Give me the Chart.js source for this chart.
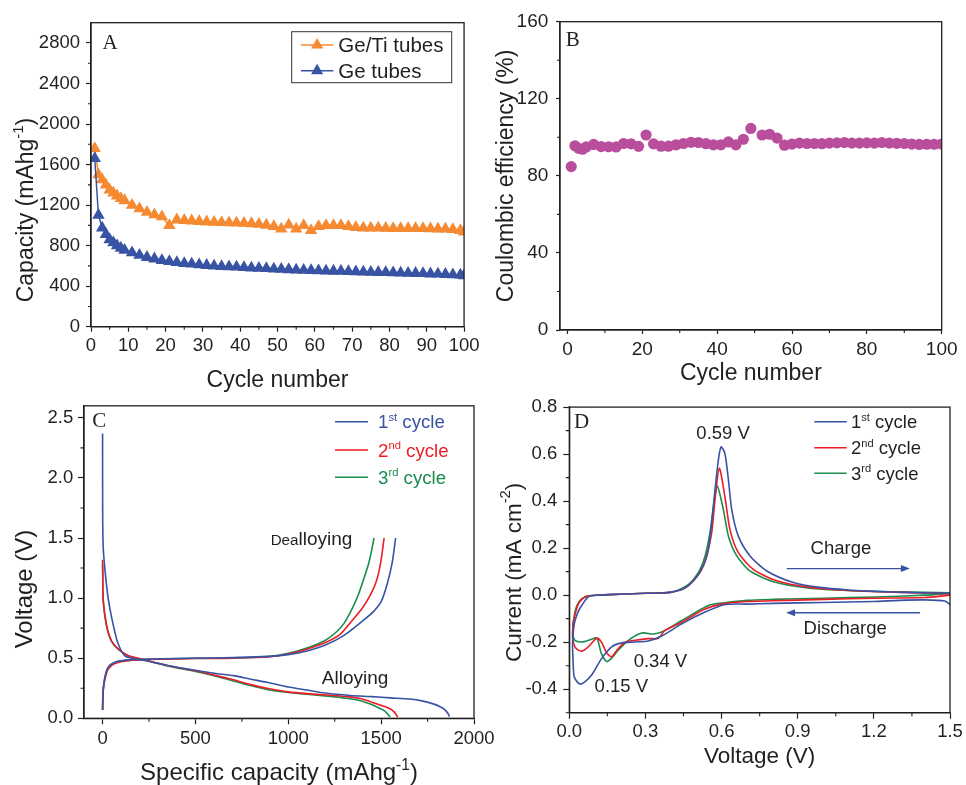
<!DOCTYPE html>
<html>
<head>
<meta charset="utf-8">
<script src="https://cdn.jsdelivr.net/npm/chart.js@4.4.1/dist/chart.umd.min.js"></script>
<style>
html, body { margin: 0; padding: 0; background: #fff; }
#fig { position: relative; width: 966px; height: 785px; overflow: hidden; background: #fff; }
canvas { position: absolute; }
</style>
</head>
<body>
<div id="fig">
  <canvas id="cA" width="483" height="394" style="left:0;top:0"></canvas>
  <canvas id="cB" width="486" height="393" style="left:480px;top:0"></canvas>
  <canvas id="cC" width="500" height="395" style="left:0;top:390px"></canvas>
  <canvas id="cD" width="486" height="395" style="left:480px;top:390px"></canvas>
</div>
<script>
// ---- data ----

// A: capacity vs cycle
const cycA = [1,2,3,4,5,6,7,8,9,11,13,15,17,19,21,23,25,27,29,31,33,35,37,39,41,43,45,47,49,
  51,53,55,57,59,61,63,65,67,69,71,73,75,77,79,81,83,85,87,89,91,93,95,97,99,100];
const capGeTi = [1760,1500,1450,1400,1350,1320,1290,1265,1245,
  1200,1165,1130,1105,1085,
  1000,1055,1050,1045,1040,
  1035,1032,1030,1027,1025,
  1022,1018,1012,1003,990,
  965,1005,965,1000,950,
  990,1000,1000,1000,990,
  980,975,975,975,972,
  970,970,970,970,970,
  968,965,965,960,950,
  935];
const capGe = [1660,1100,975,910,860,830,800,775,755,
  730,705,685,670,655,
  645,635,625,620,612,
  606,600,595,592,589,
  585,581,578,575,571,
  567,564,561,558,556,
  553,551,549,547,545,
  543,541,539,537,535,
  533,531,529,527,525,
  522,520,517,514,511,
  505];
const aXTicks = [0,10,20,30,40,50,60,70,80,90,100];
const aYTicks = [0,400,800,1200,1600,2000,2400,2800];

// B: coulombic efficiency
const cycB = [1,2,3,4,5,7,9,11,13,15,17,19,21,23,25,27,29,31,33,35,37,39,41,43,45,47,49,
  52,54,56,58,60,62,64,66,68,70,72,74,76,78,80,82,84,86,88,90,92,94,96,98,100];
const ceB = [84.8,95.6,94.3,93.8,95,96.3,95.2,95.1,95,96.8,96.6,95.3,101.2,96.6,95.4,95.4,96.1,96.8,97.4,97.3,96.7,96.1,96.1,97.6,96.1,99,104.6,
  101.2,101.6,99.6,95.9,96.5,97,96.8,96.8,96.7,97,97.1,97.3,97,97,97.1,97,97.3,97,96.9,96.8,96.5,96.3,96.4,96.4,96.5];
const bXTicks = [0,20,40,60,80,100];
const bYTicks = [0,40,80,120,160];

// C: voltage profiles [capacity, voltage]
const c1Dis = [[0,2.37],[0.5,1.72],[3,1.44],[12,1.25],[30,1.0],[57,0.78],[84,0.62],[120,0.52],[173,0.495],[245,0.475],
  [350,0.44],[500,0.40],[603,0.375],[704,0.355],[800,0.325],[884,0.30],[1000,0.26],[1100,0.235],[1200,0.21],[1333,0.19],
  [1450,0.18],[1550,0.17],[1656,0.16],[1720,0.145],[1780,0.12],[1818,0.096],[1844,0.07],[1860,0.04],[1868,0.014]];
const c1Chg = [[0,0.068],[3,0.23],[12,0.34],[30,0.425],[66,0.466],[138,0.486],[317,0.495],[500,0.5],[704,0.505],[900,0.515],
  [1000,0.53],[1100,0.56],[1200,0.61],[1300,0.69],[1400,0.81],[1460,0.89],[1500,0.97],[1533,1.12],[1560,1.3],[1578,1.5]];
const c2Dis = [[0,1.32],[1,1.2],[3,1.0],[21,0.78],[48,0.645],[84,0.577],[138,0.52],[227,0.486],[350,0.44],[500,0.395],
  [600,0.36],[704,0.32],[800,0.28],[884,0.25],[1000,0.22],[1100,0.205],[1243,0.19],[1320,0.18],[1387,0.165],[1440,0.14],
  [1494,0.11],[1548,0.08],[1575,0.045],[1589,0.01]];
const c2Chg = [[0,0.07],[3,0.22],[12,0.32],[30,0.41],[66,0.455],[138,0.48],[317,0.492],[500,0.497],[704,0.5],[900,0.512],
  [1000,0.535],[1100,0.575],[1200,0.63],[1280,0.70],[1342,0.81],[1400,0.92],[1440,1.02],[1474,1.14],[1498,1.3],[1516,1.5]];
const c3Dis = [[0,1.28],[1,1.18],[3,0.98],[21,0.77],[48,0.64],[84,0.575],[138,0.52],[227,0.485],[350,0.435],[500,0.39],
  [600,0.355],[704,0.31],[800,0.27],[884,0.24],[1000,0.215],[1100,0.2],[1240,0.18],[1320,0.165],[1380,0.15],[1430,0.125],
  [1470,0.10],[1520,0.06],[1548,0.01]];
const c3Chg = [[0,0.07],[3,0.23],[12,0.33],[30,0.42],[66,0.462],[138,0.484],[317,0.494],[500,0.499],[704,0.503],[900,0.515],
  [1000,0.54],[1100,0.585],[1200,0.65],[1260,0.72],[1300,0.79],[1340,0.90],[1375,1.02],[1400,1.13],[1435,1.3],[1462,1.5]];
const cXTicks = [0,500,1000,1500,2000];
const cYTicks = [0,0.5,1.0,1.5,2.0,2.5];

// D: cyclic voltammetry [voltage, current]
const d1 = [[1.5,-0.04],[1.48,-0.025],[1.4,-0.02],[1.3,-0.022],[1.2,-0.027],[1.0,-0.031],[0.8,-0.035],[0.7,-0.038],[0.614,-0.04],
  [0.535,-0.072],[0.443,-0.122],[0.364,-0.174],[0.311,-0.195],[0.259,-0.199],[0.206,-0.203],[0.167,-0.22],[0.127,-0.27],
  [0.088,-0.34],[0.06,-0.37],[0.042,-0.378],[0.025,-0.36],[0.018,-0.34],[0.014,-0.26],[0.013,-0.2],
  [0.02,-0.12],[0.035,-0.07],[0.049,-0.044],[0.075,-0.007],[0.114,0.0],[0.2,0.004],[0.3,0.008],[0.357,0.009],[0.4,0.013],
  [0.449,0.026],[0.489,0.061],[0.528,0.125],[0.548,0.195],[0.561,0.307],[0.574,0.448],[0.588,0.58],[0.598,0.631],
  [0.613,0.603],[0.627,0.49],[0.64,0.364],[0.666,0.251],[0.712,0.167],[0.778,0.103],[0.883,0.054],[0.988,0.033],
  [1.1,0.022],[1.2,0.016],[1.35,0.011],[1.5,0.008]];
const d2 = [[1.5,0.0],[1.4,-0.01],[1.2,-0.013],[1.0,-0.018],[0.8,-0.024],[0.7,-0.027],[0.614,-0.035],[0.535,-0.059],
  [0.443,-0.115],[0.377,-0.15],[0.351,-0.183],[0.311,-0.185],[0.259,-0.192],[0.22,-0.2],[0.19,-0.23],[0.167,-0.262],
  [0.147,-0.245],[0.127,-0.2],[0.108,-0.183],[0.075,-0.22],[0.049,-0.238],[0.025,-0.225],[0.014,-0.19],[0.013,-0.165],
  [0.016,-0.115],[0.036,-0.037],[0.062,-0.007],[0.114,0.0],[0.2,0.004],[0.3,0.008],[0.4,0.012],[0.463,0.035],[0.515,0.096],
  [0.541,0.167],[0.561,0.265],[0.574,0.406],[0.591,0.54],[0.613,0.42],[0.633,0.279],[0.666,0.181],[0.725,0.11],
  [0.817,0.061],[0.948,0.033],[1.1,0.02],[1.3,0.012],[1.5,0.006]];
const d3 = [[1.5,0.008],[1.4,0.0],[1.2,-0.008],[1.0,-0.013],[0.8,-0.018],[0.7,-0.022],[0.614,-0.032],[0.548,-0.044],
  [0.443,-0.108],[0.364,-0.157],[0.33,-0.165],[0.285,-0.161],[0.233,-0.192],[0.193,-0.234],[0.165,-0.27],[0.147,-0.282],
  [0.127,-0.25],[0.108,-0.182],[0.082,-0.19],[0.049,-0.199],[0.022,-0.192],[0.013,-0.16],
  [0.022,-0.072],[0.042,-0.023],[0.075,-0.003],[0.114,0.0],[0.2,0.004],[0.3,0.008],[0.4,0.012],[0.463,0.04],[0.508,0.096],
  [0.535,0.167],[0.554,0.265],[0.57,0.392],[0.583,0.465],[0.607,0.364],[0.627,0.251],[0.66,0.167],[0.712,0.103],
  [0.804,0.057],[0.948,0.03],[1.1,0.02],[1.3,0.014],[1.5,0.01]];
const dXTicks = [0,0.3,0.6,0.9,1.2,1.5];
const dYTicks = [-0.4,-0.2,0,0.2,0.4,0.6,0.8];

// legend labels: [text, size factor, rise]
const cycleLabels = [
  [['1',1,0],['st',0.6,0.42],[' cycle',1,0]],
  [['2',1,0],['nd',0.6,0.42],[' cycle',1,0]],
  [['3',1,0],['rd',0.6,0.42],[' cycle',1,0]]
];

// ---- styling ----
const INK = '#231f20';
const FONT = '"Liberation Sans", Arial, Helvetica, sans-serif';
const SERIF = '"Liberation Serif", "Times New Roman", serif';
const ORANGE = '#f58a32', BLUE = '#3953a4', RED = '#ee1d25', GREEN = '#1b8b4e', MAGENTA = '#b94e9c';

const xy = arr => arr.map(p => ({x: p[0], y: p[1]}));
const minors = (ticks) => { // midpoints between major ticks
  const out = [];
  for (let i = 0; i < ticks.length - 1; i++) out.push((ticks[i] + ticks[i + 1]) / 2);
  return out;
};

function rich(ctx, parts, x, y, size, color, align, rot, family) {
  ctx.save();
  ctx.translate(x, y);
  if (rot) ctx.rotate(rot);
  ctx.fillStyle = color;
  ctx.textBaseline = 'alphabetic';
  ctx.textAlign = 'left';
  const fam = family || FONT;
  const widths = parts.map(p => { ctx.font = (size * p[1]) + 'px ' + fam; return ctx.measureText(p[0]).width; });
  const total = widths.reduce((a, b) => a + b, 0);
  let cx = align === 'left' ? 0 : (align === 'right' ? -total : -total / 2);
  const base = size * 0.36;
  parts.forEach((p, i) => {
    ctx.font = (size * p[1]) + 'px ' + fam;
    ctx.fillText(p[0], cx, base - p[2] * size);
    cx += widths[i];
  });
  ctx.restore();
}

function axis(o) {
  return {
    type: 'linear',
    min: o.min,
    max: o.max,
    afterBuildTicks: s => { s.ticks = o.ticks.map(v => ({value: v})); },
    afterFit: s => { if (o.w) s.width = o.w; if (o.h) s.height = o.h; },
    grid: {drawOnChartArea: false, drawTicks: true, tickLength: o.tl, tickColor: INK, tickWidth: 1.2},
    border: {display: true, color: INK, width: 1.3},
    ticks: {
      font: {family: FONT, size: o.fs}, color: INK, padding: o.pad,
      autoSkip: false, maxRotation: 0,
      callback: o.fmt || (v => String(v))
    },
    title: o.title ? {
      display: true, text: o.title, color: INK,
      font: {family: FONT, size: o.tfs}, padding: o.tpad
    } : {display: false}
  };
}

function deco(cfg) {
  return {
    id: 'deco',
    afterDraw(chart) {
      const ctx = chart.ctx, a = chart.chartArea;
      const xs = chart.scales.x, ys = chart.scales.y;
      const px = (v) => xs.getPixelForValue(v), py = (v) => ys.getPixelForValue(v);
      ctx.save();
      ctx.strokeStyle = INK;
      ctx.lineWidth = 1.3;
      ctx.strokeRect(a.left, a.top, a.right - a.left, a.bottom - a.top);
      ctx.lineWidth = 1.1;
      ctx.beginPath();
      cfg.minorX.forEach(v => { ctx.moveTo(px(v), a.bottom); ctx.lineTo(px(v), a.bottom + cfg.minorLen); });
      cfg.minorY.forEach(v => { ctx.moveTo(a.left, py(v)); ctx.lineTo(a.left - cfg.minorLen, py(v)); });
      ctx.stroke();

      (cfg.arrows || []).forEach(ar => {
        const x0 = px(ar.from[0]), y0 = py(ar.from[1]), x1 = px(ar.to[0]), y1 = py(ar.to[1]);
        const dir = Math.sign(x1 - x0);
        ctx.strokeStyle = ar.color; ctx.fillStyle = ar.color; ctx.lineWidth = 1.4;
        ctx.beginPath(); ctx.moveTo(x0, y0); ctx.lineTo(x1 - dir * 6, y1); ctx.stroke();
        ctx.beginPath(); ctx.moveTo(x1, y1); ctx.lineTo(x1 - dir * 9, y1 - 3.5); ctx.lineTo(x1 - dir * 9, y1 + 3.5);
        ctx.closePath(); ctx.fill();
      });

      if (cfg.legend) {
        const L = cfg.legend;
        if (L.box) {
          ctx.strokeStyle = '#333'; ctx.lineWidth = 1;
          ctx.strokeRect(L.box[0], L.box[1], L.box[2] - L.box[0], L.box[3] - L.box[1]);
        }
        L.rows.forEach((r, i) => {
          const ds = chart.data.datasets[r.ds];
          const col = ds.borderColor;
          ctx.strokeStyle = col; ctx.lineWidth = 1.6;
          ctx.beginPath(); ctx.moveTo(L.x0, r.y); ctx.lineTo(L.x1, r.y); ctx.stroke();
          if (L.marker) {
            const m = (L.x0 + L.x1) / 2, s = 7;
            ctx.fillStyle = col;
            ctx.beginPath();
            ctx.moveTo(m, r.y - s); ctx.lineTo(m + s * 0.866, r.y + s / 2); ctx.lineTo(m - s * 0.866, r.y + s / 2);
            ctx.closePath(); ctx.fill();
          }
          rich(ctx, r.parts, L.tx, r.y, L.size, L.colored ? col : INK, 'left', 0);
        });
      }

      (cfg.texts || []).forEach(t => {
        const x = t.data ? px(t.x) : t.x, y = t.data ? py(t.y) : t.y;
        rich(ctx, t.parts, x, y, t.size, t.color || INK, t.align || 'center', t.rot || 0, t.family);
      });
      ctx.restore();
    }
  };
}

const base = (pad) => ({
  responsive: false,
  animation: false,
  devicePixelRatio: 1,
  layout: {padding: pad},
  plugins: {legend: {display: false}, tooltip: {enabled: false}},
  events: []
});

// ---- Panel A ----
new Chart(document.getElementById('cA'), {
  type: 'scatter',
  data: {
    datasets: [
      {label: 'Ge tubes', data: cycA.map((c, i) => ({x: c, y: capGe[i]})), borderColor: BLUE, backgroundColor: BLUE,
       showLine: true, borderWidth: 1.5, pointStyle: 'triangle', pointRadius: 7.2, pointBorderWidth: 0},
      {label: 'Ge/Ti tubes', data: cycA.map((c, i) => ({x: c, y: capGeTi[i]})), borderColor: ORANGE, backgroundColor: ORANGE,
       showLine: true, borderWidth: 1.5, pointStyle: 'triangle', pointRadius: 7.2, pointBorderWidth: 0}
    ]
  },
  options: Object.assign(base({left: 0, top: 22.7, right: 17, bottom: 0}), {
    scales: {
      x: axis({min: 0, max: 100, ticks: aXTicks, h: 67.3, tl: 5, fs: 18.5, pad: 3.5,
               title: 'Cycle number', tfs: 23, tpad: {top: 0, bottom: 0}}),
      y: axis({min: 0, max: 3000, ticks: aYTicks, w: 91, tl: 5, fs: 18.5, pad: 6})
    }
  }),
  plugins: [deco({
    minorX: minors(aXTicks), minorY: minors(aYTicks), minorLen: 3,
    legend: {box: [291.7, 31.7, 451.7, 82.7], x0: 301, x1: 333.3, tx: 338.3, size: 20.5, marker: true, colored: false,
             rows: [{ds: 1, y: 45, parts: [['Ge/Ti tubes', 1, 0]]}, {ds: 0, y: 70.7, parts: [['Ge tubes', 1, 0]]}]},
    texts: [
      {parts: [['A', 1, 0]], x: 110, y: 41.7, size: 21, family: SERIF},
      {parts: [['Capacity (mAhg', 1, 0], ['-1', 0.65, 0.45], [')', 1, 0]], x: 25, y: 210, size: 23, rot: -Math.PI / 2}
    ]
  })]
});

// ---- Panel B ----
new Chart(document.getElementById('cB'), {
  type: 'scatter',
  data: {
    datasets: [
      {label: 'Coulombic efficiency', data: cycB.map((c, i) => ({x: c, y: ceB[i]})), backgroundColor: MAGENTA,
       borderColor: MAGENTA, pointRadius: 5.6, pointBorderWidth: 0}
    ]
  },
  options: Object.assign(base({left: 0, top: 21.7, right: 24.3, bottom: 0}), {
    scales: {
      x: axis({min: -2, max: 100, ticks: bXTicks, h: 63, tl: 4, fs: 19, pad: 4.6,
               title: 'Cycle number', tfs: 23, tpad: {top: 0, bottom: 5.2}}),
      y: axis({min: 0, max: 160, ticks: bYTicks, w: 80, tl: 4, fs: 19, pad: 7.7,
               title: 'Coulombic efficiency (%)', tfs: 23, tpad: {top: 12.9, bottom: 0}})
    }
  }),
  plugins: [deco({
    minorX: minors(bXTicks), minorY: minors(bYTicks), minorLen: 3,
    texts: [{parts: [['B', 1, 0]], x: 92.7, y: 38, size: 21, family: SERIF}]
  })]
});

// ---- Panel C ----
const lineDs = (label, arr, col) => ({label: label, data: xy(arr), borderColor: col, backgroundColor: col,
  showLine: true, borderWidth: 1.6, pointRadius: 0, tension: 0.25});
new Chart(document.getElementById('cC'), {
  type: 'scatter',
  data: {
    datasets: [
      lineDs('1st cycle', c1Dis, BLUE), lineDs('1st cycle', c1Chg, BLUE),
      lineDs('2nd cycle', c2Dis, RED), lineDs('2nd cycle', c2Chg, RED),
      lineDs('3rd cycle', c3Dis, GREEN), lineDs('3rd cycle', c3Chg, GREEN)
    ]
  },
  options: Object.assign(base({left: 0, top: 13.3, right: 26, bottom: 0}), {
    scales: {
      x: axis({min: -100, max: 2000, ticks: cXTicks, h: 66.7, tl: 6, fs: 18.5, pad: 3.6}),
      y: axis({min: 0, max: 2.6, ticks: cYTicks, w: 84, tl: 6, fs: 18.5, pad: 4.7, fmt: v => v.toFixed(1)})
    }
  }),
  plugins: [deco({
    minorX: minors(cXTicks), minorY: minors(cYTicks), minorLen: 3.5,
    legend: {x0: 335, x1: 368, tx: 378, size: 18.7, colored: true,
             rows: [{ds: 0, y: 31.7, parts: cycleLabels[0]}, {ds: 2, y: 60, parts: cycleLabels[1]}, {ds: 4, y: 87.3, parts: cycleLabels[2]}]},
    texts: [
      {parts: [['C', 1, 0]], x: 99.3, y: 29.3, size: 21, family: SERIF},
      {parts: [['Dea', 0.8, 0], ['lloying', 1, 0]], x: 1125, y: 1.497, size: 19, data: true},
      {parts: [['Alloying', 1, 0]], x: 1360, y: 0.343, size: 19, data: true},
      {parts: [['Voltage (V)', 1, 0]], x: 23.3, y: 199, size: 24, rot: -Math.PI / 2},
      {parts: [['Specific capacity (mAhg', 1, 0], ['-1', 0.65, 0.45], [')', 1, 0]], x: 279, y: 381.7, size: 24}
    ]
  })]
});

// ---- Panel D ----
new Chart(document.getElementById('cD'), {
  type: 'scatter',
  data: {
    datasets: [
      lineDs('1st cycle', d1, BLUE), lineDs('2nd cycle', d2, RED), lineDs('3rd cycle', d3, GREEN)
    ]
  },
  options: Object.assign(base({left: 0, top: 13.3, right: 16, bottom: 0}), {
    scales: {
      x: axis({min: 0, max: 1.5, ticks: dXTicks, h: 72.3, tl: 6, fs: 18.5, pad: 1.9, fmt: v => v.toFixed(1),
               title: 'Voltage (V)', tfs: 22.5, tpad: {top: 0, bottom: 14.8}}),
      y: axis({min: -0.5, max: 0.8, ticks: dYTicks, w: 89.3, tl: 6, fs: 18.5, pad: 6, fmt: v => v.toFixed(1)})
    }
  }),
  plugins: [deco({
    minorX: minors(dXTicks), minorY: [-0.5].concat(minors(dYTicks)), minorLen: 3.5,
    legend: {x0: 334.3, x1: 366.7, tx: 371, size: 18.5, colored: false,
             rows: [{ds: 0, y: 31.7, parts: cycleLabels[0]}, {ds: 1, y: 57.7, parts: cycleLabels[1]}, {ds: 2, y: 83.3, parts: cycleLabels[2]}]},
    arrows: [
      {from: [0.857, 0.113], to: [1.342, 0.113], color: BLUE},
      {from: [1.382, -0.075], to: [0.854, -0.075], color: BLUE}
    ],
    texts: [
      {parts: [['D', 1, 0]], x: 101.7, y: 30.7, size: 21, family: SERIF},
      {parts: [['0.59 V', 1, 0]], x: 0.606, y: 0.694, size: 18.5, data: true},
      {parts: [['0.34 V', 1, 0]], x: 0.359, y: -0.276, size: 18.5, data: true},
      {parts: [['0.15 V', 1, 0]], x: 0.205, y: -0.385, size: 18.5, data: true},
      {parts: [['Charge', 1, 0]], x: 1.07, y: 0.202, size: 18.5, data: true},
      {parts: [['Discharge', 1, 0]], x: 1.087, y: -0.137, size: 18.5, data: true},
      {parts: [['Current (mA cm', 1, 0], ['-2', 0.65, 0.45], [')', 1, 0]], x: 32.5, y: 182.5, size: 22.5, rot: -Math.PI / 2}
    ]
  })]
});
</script>
</body>
</html>
